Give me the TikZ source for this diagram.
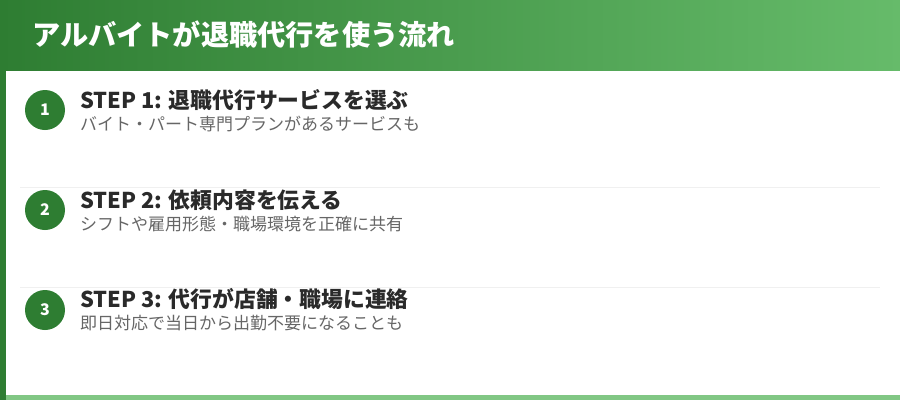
\documentclass[tikz,border=0pt]{standalone}
\usepackage{fontspec}
\setmainfont{Noto Sans CJK JP}
\usetikzlibrary{shadings}
\definecolor{gdark}{HTML}{2E7D32}
\definecolor{glight}{HTML}{66BB6A}
\definecolor{gbottom}{HTML}{81C784}
\definecolor{sepc}{HTML}{F0F0F0}
\definecolor{headc}{HTML}{2A2A2A}
\definecolor{subc}{HTML}{666666}
\tikzset{
  numcirc/.style={circle, fill=gdark, minimum size=40pt, inner sep=0pt, text=white, font=\fontsize{16}{18}\selectfont\bfseries},
  stephead/.style={anchor=base west, inner sep=0pt, text=headc, font=\fontsize{21.8}{26}\selectfont\bfseries},
  stepsub/.style={anchor=base west, inner sep=0pt, text=subc, font=\fontsize{17}{20}\selectfont},
  sepline/.style={draw=sepc, line width=1.5pt}
}
\begin{document}
\begin{tikzpicture}[x=1pt,y=-1pt]
\useasboundingbox (0,0) rectangle (900,400);
\fill[white] (0,0) rectangle (900,400);
% header
\shade[left color=gdark, right color=glight] (0,0) rectangle (900,70);
\node[anchor=base west, inner sep=0pt, text=white, font=\fontsize{28.2}{32}\selectfont\bfseries] (title) at (32,45.5) {アルバイトが退職代行を使う流れ};
% left bar and bottom bar
\fill[gdark] (0,70) rectangle (6,400);
\fill[gbottom] (6,395) rectangle (900,400);
% separators
\coordinate (s1a) at (20,187.5); \coordinate (s1b) at (880,187.5);
\coordinate (s2a) at (20,287.5); \coordinate (s2b) at (880,287.5);
\draw[sepline] (s1a) -- (s1b);
\draw[sepline] (s2a) -- (s2b);
% steps
\node[numcirc] (c1) at (45,110) {1};
\node[stephead] (h1) at (80,108) {STEP 1: 退職代行サービスを選ぶ};
\node[stepsub] (d1) at (80,130) {バイト・パート専門プランがあるサービスも};
\node[numcirc] (c2) at (45,210) {2};
\node[stephead] (h2) at (80,208) {STEP 2: 依頼内容を伝える};
\node[stepsub] (d2) at (80,230) {シフトや雇用形態・職場環境を正確に共有};
\node[numcirc] (c3) at (45,310) {3};
\node[stephead] (h3) at (80,307.5) {STEP 3: 代行が店舗・職場に連絡};
\node[stepsub] (d3) at (80,329.5) {即日対応で当日から出勤不要になることも};
\end{tikzpicture}
\end{document}
